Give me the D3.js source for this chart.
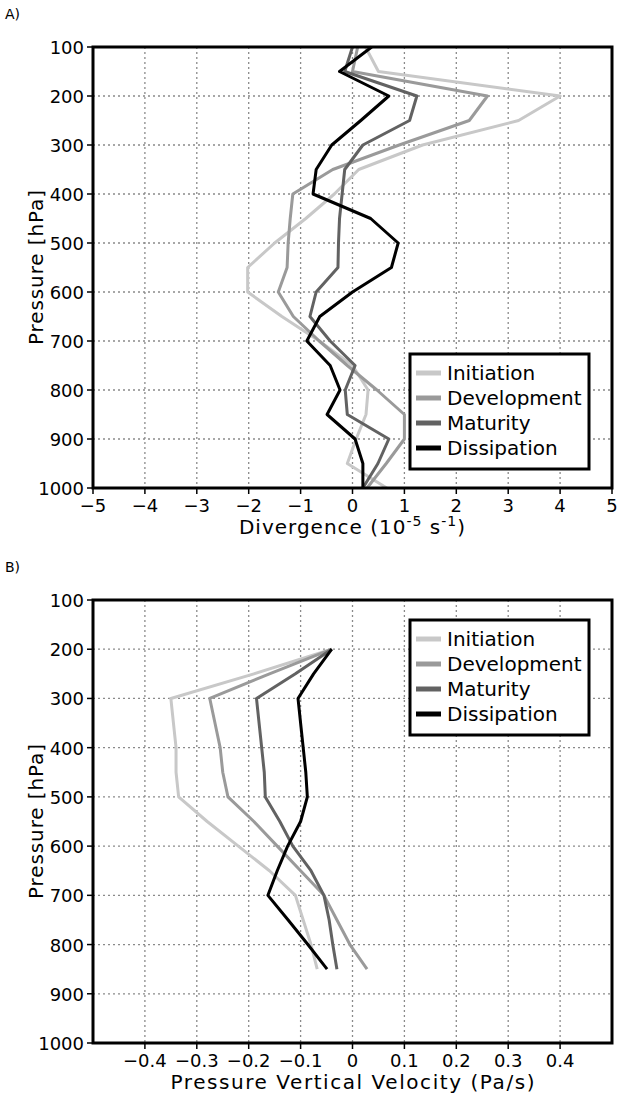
<!DOCTYPE html>
<meta charset="utf-8">
<style>

body {
  margin: 0;
  background: #fff;
}

svg {
  display: block;
  font-family: "DejaVu Sans", sans-serif;
}

.grid line {
  stroke: #8a8a8a;
  stroke-width: 1.3px;
  stroke-dasharray: 2,3;
}

.frame {
  fill: none;
  stroke: #000;
  stroke-width: 3px;
}

.tick {
  stroke: #000;
  stroke-width: 1.5px;
}

.profile {
  fill: none;
  stroke-width: 3px;
  stroke-linejoin: round;
}

.tick-label {
  font-size: 18px;
}

.axis-title {
  font-size: 20px;
}

.legend-box {
  fill: #fff;
  stroke: #000;
  stroke-width: 3px;
}

.legend-label {
  font-size: 20px;
}

</style>
<svg width="627" height="1103"></svg>
<script src="https://cdn.jsdelivr.net/npm/d3@7"></script>
<script>

// stages of the storm life cycle
var stages = ["Initiation", "Development", "Maturity", "Dissipation"];
var stageColors = ["#c8c8c8", "#9a9a9a", "#626262", "#000000"];

// A) divergence (10^-5 s^-1) by pressure level
var levelsA = [100, 150, 200, 250, 300, 350, 400, 450, 500, 550, 600, 650, 700, 750, 800, 850, 900, 950, 1000];
var initiationA  = [0.25, 0.5, 4.0, 3.2, 1.35, 0.12, -0.35, -0.9, -1.5, -2.02, -2.02, -1.36, -0.64, 0.0, 0.3, 0.26, 0.07, -0.1, 0.66];
var developmentA = [0.1, 0.0, 2.6, 2.25, 0.9, -0.38, -1.15, -1.2, -1.24, -1.26, -1.43, -1.14, -0.64, -0.1, 0.47, 1.0, 1.0, 0.65, 0.28];
var maturityA    = [0.0, -0.15, 1.24, 1.1, 0.2, -0.15, -0.2, -0.25, -0.27, -0.28, -0.7, -0.82, -0.43, 0.05, -0.14, -0.1, 0.7, 0.49, 0.2];
var dissipationA = [0.37, -0.25, 0.7, 0.16, -0.4, -0.7, -0.76, 0.35, 0.88, 0.75, 0.0, -0.63, -0.88, -0.43, -0.24, -0.49, 0.05, 0.2, 0.2];

// B) pressure vertical velocity (Pa/s) by pressure level
var levelsB = [200, 250, 300, 350, 400, 450, 500, 550, 600, 650, 700, 750, 800, 850];
var initiationB  = [-0.04, -0.19, -0.35, -0.345, -0.34, -0.34, -0.335, -0.28, -0.22, -0.16, -0.11, -0.095, -0.08, -0.068];
var developmentB = [-0.04, -0.16, -0.275, -0.265, -0.255, -0.25, -0.24, -0.19, -0.145, -0.1, -0.055, -0.03, -0.005, 0.028];
var maturityB    = [-0.04, -0.11, -0.185, -0.18, -0.175, -0.17, -0.168, -0.14, -0.115, -0.08, -0.055, -0.045, -0.038, -0.03];
var dissipationB = [-0.04, -0.075, -0.105, -0.1, -0.095, -0.09, -0.087, -0.1, -0.125, -0.145, -0.163, -0.124, -0.086, -0.049];

var pressureTicks = [100, 200, 300, 400, 500, 600, 700, 800, 900, 1000];
var xTicksA = [-5, -4, -3, -2, -1, 0, 1, 2, 3, 4, 5];
var xTicksB = [-0.4, -0.3, -0.2, -0.1, 0, 0.1, 0.2, 0.3, 0.4];

var svg = d3.select("svg");

var left = 93, right = 612;

function drawPanel(opt) {
  var x = d3.scaleLinear().domain(opt.xDomain).range([left, right]),
      y = d3.scaleLinear().domain([100, 1000]).range([opt.top, opt.bottom]);

  var g = svg.append("g");

  // grid
  var grid = g.append("g").attr("class", "grid");
  grid.selectAll(".gx")
      .data(opt.xTicks.filter(function(d) { return d > opt.xDomain[0] && d < opt.xDomain[1]; }))
    .enter().append("line")
      .attr("x1", x).attr("x2", x)
      .attr("y1", opt.top).attr("y2", opt.bottom);
  grid.selectAll(".gy")
      .data(pressureTicks.slice(1, -1))
    .enter().append("line")
      .attr("x1", left).attr("x2", right)
      .attr("y1", y).attr("y2", y);

  // profiles
  var line = d3.line()
      .x(function(d) { return x(d[1]); })
      .y(function(d) { return y(d[0]); });

  g.selectAll(".profile")
      .data(opt.series)
    .enter().append("path")
      .attr("class", "profile")
      .style("stroke", function(d, i) { return stageColors[i]; })
      .attr("d", function(d) { return line(opt.levels.map(function(p, j) { return [p, d[j]]; })); });

  // frame
  g.append("rect")
      .attr("class", "frame")
      .attr("x", left).attr("y", opt.top)
      .attr("width", right - left).attr("height", opt.bottom - opt.top);

  // left ticks + labels
  g.selectAll(".yt")
      .data(pressureTicks)
    .enter().append("line")
      .attr("class", "tick")
      .attr("x1", left - 6).attr("x2", left)
      .attr("y1", y).attr("y2", y);
  g.selectAll(".yl")
      .data(pressureTicks)
    .enter().append("text")
      .attr("class", "tick-label")
      .attr("x", left - 9)
      .attr("y", function(d) { return y(d) + 7; })
      .attr("text-anchor", "end")
      .text(function(d) { return d; });

  // bottom ticks + labels
  g.selectAll(".xt")
      .data(opt.xTicks)
    .enter().append("line")
      .attr("class", "tick")
      .attr("x1", x).attr("x2", x)
      .attr("y1", opt.bottom).attr("y2", opt.bottom + 6);
  g.selectAll(".xl")
      .data(opt.xTicks)
    .enter().append("text")
      .attr("class", "tick-label")
      .attr("x", x)
      .attr("y", opt.bottom + 24)
      .attr("text-anchor", "middle")
      .text(function(d) { return d < 0 ? "\u2212" + Math.abs(d) : d; });

  // titles
  g.append("text")
      .attr("class", "axis-title")
      .attr("transform", "translate(43," + (opt.top + opt.bottom) / 2 + ") rotate(-90)")
      .attr("text-anchor", "middle")
      .attr("textLength", 155)
      .attr("lengthAdjust", "spacing")
      .text("Pressure [hPa]");

  opt.xTitle(g.append("text")
      .attr("class", "axis-title")
      .attr("x", (left + right) / 2)
      .attr("y", opt.bottom + 46)
      .attr("text-anchor", "middle"));

  g.append("text")
      .attr("x", 5).attr("y", opt.top - 28)
      .style("font-size", "14px")
      .text(opt.tag);

  // legend
  var lg = g.append("g")
      .attr("transform", "translate(410," + opt.legendTop + ")");
  lg.append("rect")
      .attr("class", "legend-box")
      .attr("width", 179).attr("height", 115);
  var item = lg.selectAll(".item")
      .data(stages)
    .enter().append("g")
      .attr("transform", function(d, i) { return "translate(0," + (19 + i * 25) + ")"; });
  item.append("line")
      .attr("x1", 6).attr("x2", 31)
      .style("stroke", function(d, i) { return stageColors[i]; })
      .style("stroke-width", 5);
  item.append("text")
      .attr("class", "legend-label")
      .attr("x", 37).attr("y", 7)
      .text(function(d) { return d; });
}

drawPanel({
  top: 47, bottom: 488,
  xDomain: [-5, 5],
  xTicks: xTicksA,
  levels: levelsA,
  series: [initiationA, developmentA, maturityA, dissipationA],
  legendTop: 354,
  tag: "A)",
  xTitle: function(t) {
    t.style("letter-spacing", "1px");
    t.append("tspan").text("Divergence (10");
    t.append("tspan").attr("dy", -8).style("font-size", "14px").text("-5");
    t.append("tspan").attr("dy", 8).text(" s");
    t.append("tspan").attr("dy", -8).style("font-size", "14px").text("-1");
    t.append("tspan").attr("dy", 8).text(")");
  }
});

drawPanel({
  top: 600, bottom: 1043,
  xDomain: [-0.5, 0.5],
  xTicks: xTicksB,
  levels: levelsB,
  series: [initiationB, developmentB, maturityB, dissipationB],
  legendTop: 620,
  tag: "B)",
  xTitle: function(t) {
    t.attr("textLength", 364).attr("lengthAdjust", "spacing")
      .text("Pressure Vertical Velocity (Pa/s)");
  }
});

</script>
